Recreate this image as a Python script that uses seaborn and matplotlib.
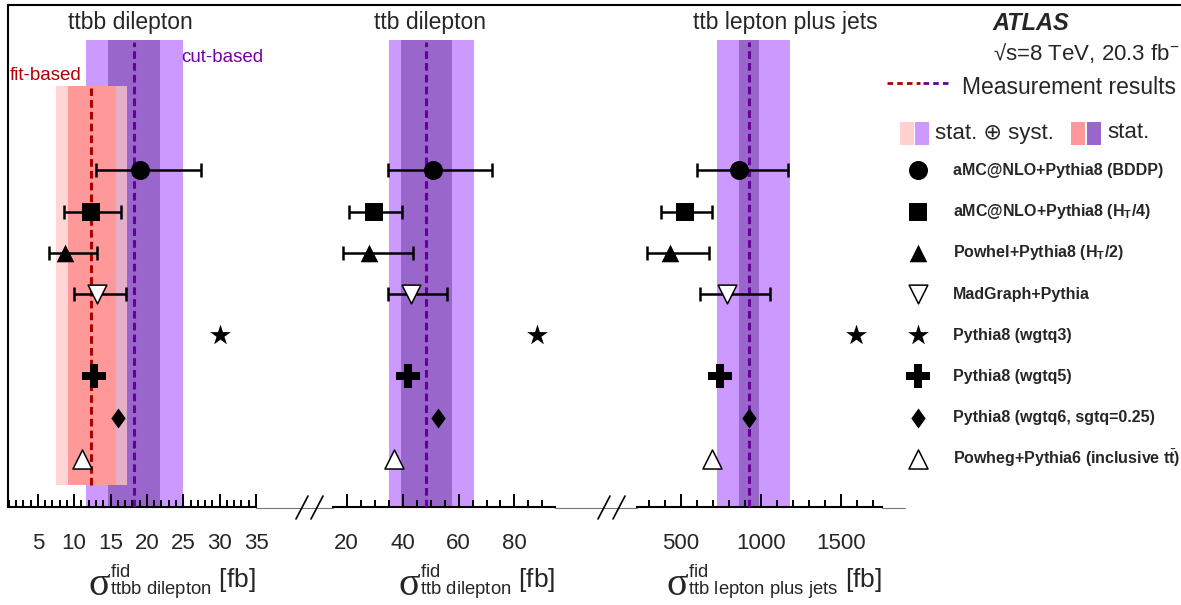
import numpy as np
import pandas as pd
import matplotlib
matplotlib.use("Agg")
import matplotlib.pyplot as plt
import seaborn as sns
from matplotlib.lines import Line2D
from matplotlib.patches import Rectangle

# ---------------- data ----------------
models = [
    "aMC@NLO+Pythia8 (BDDP)",
    r"aMC@NLO+Pythia8 (H$_{\mathbf{T}}$/4)",
    r"Powhel+Pythia8 (H$_{\mathbf{T}}$/2)",
    "MadGraph+Pythia",
    "Pythia8 (wgtq3)",
    "Pythia8 (wgtq5)",
    "Pythia8 (wgtq6, sgtq=0.25)",
    r"Powheg+Pythia6 (inclusive t$\bar{\mathbf{t}}$)",
]
panel_titles = ["ttbb dilepton", "ttb dilepton", "ttb lepton plus jets"]
xlabels = [
    r"${}^{\mathrm{fid}}_{\mathrm{ttbb\ dilepton}}$ [fb]",
    r"${}^{\mathrm{fid}}_{\mathrm{ttb\ dilepton}}$ [fb]",
    r"${}^{\mathrm{fid}}_{\mathrm{ttb\ lepton\ plus\ jets}}$ [fb]",
]

# ttbb dilepton
ttbb_pred = [19.0, 12.3, 8.8, 13.2, 30.0, 12.7, 16.0, 11.1]
ttbb_err_low = [13.0, 8.6, 6.6, 10.0]
ttbb_err_high = [27.5, 16.5, 13.2, 17.1]
ttbb_cut_central = 18.2
ttbb_cut_stat = [14.7, 21.8]
ttbb_cut_total = [11.6, 24.9]
ttbb_fit_central = 12.3
ttbb_fit_stat = [9.1, 15.7]
ttbb_fit_total = [7.5, 17.2]
ttbb_ticks = [5, 10, 15, 20, 25, 30, 35]

# ttb dilepton
ttb_dil_pred = [50.8, 29.9, 28.0, 42.9, 88.0, 41.8, 52.8, 36.8]
ttb_dil_err_low = [34.9, 20.8, 18.8, 34.9]
ttb_dil_err_high = [72.0, 39.8, 43.8, 55.9]
ttb_dil_central = 48.3
ttb_dil_stat = [39.4, 57.6]
ttb_dil_total = [35.1, 65.7]
ttb_dil_ticks = [20, 40, 60, 80]

# ttb lepton plus jets
ttb_lj_pred = [865, 527, 433, 790, 1595, 745, 925, 693]
ttb_lj_err_low = [603, 377, 288, 620]
ttb_lj_err_high = [1170, 693, 678, 1056]
ttb_lj_central = 925
ttb_lj_stat = [861, 989]
ttb_lj_total = [724, 1182]
ttb_lj_ticks = [500, 1000, 1500]

# ---------------- style ----------------
sns.set_theme(style="white")
plt.rcParams["font.family"] = ["Liberation Sans", "DejaVu Sans"]
plt.rcParams["mathtext.fontset"] = "custom"
plt.rcParams["mathtext.rm"] = "Liberation Sans"
plt.rcParams["mathtext.bf"] = "Liberation Sans:bold"
plt.rcParams["mathtext.it"] = "Liberation Sans:italic"
plt.rcParams["mathtext.sf"] = "Liberation Serif"
plt.rcParams["lines.scale_dashes"] = False

LIGHT_PURPLE = "#cc99ff"
DARK_PURPLE = "#9966cc"
LIGHT_PINK = "#ffc8c8"
RED_STAT = "#ff9999"
PURPLE_LINE = "#660099"
RED_LINE = "#aa0000"

diamond = [(0, 1), (0.72, 0), (0, -1), (-0.72, 0), (0, 1)]
marker_styles = [
    dict(marker="o", s=188, color="black", lw=0),
    dict(marker="s", s=160, color="black", lw=0),
    dict(marker="^", s=160, color="black", lw=0),
    dict(marker="v", s=182, color="white", lw=1.1),
    dict(marker="*", s=246, color="black", lw=0),
    dict(marker="P", s=289, color="black", lw=0),
    dict(marker=diamond, s=207, color="black", lw=0),
    dict(marker="^", s=188, color="white", lw=1.1),
]

W, H = 1181, 605
fig = plt.figure(figsize=(W / 100, H / 100), dpi=100)

Y_TOP, Y_BOT = 5, 507
ROW_LIM = (8.168, -4.017)


def px_axes(x0, x1):
    return fig.add_axes([x0 / W, (H - Y_BOT) / H, (x1 - x0) / W, (Y_BOT - Y_TOP) / H])


def frac(ypx):
    return (Y_BOT - ypx) / (Y_BOT - Y_TOP)


panels = [
    dict(px=(8, 256), xlim=(0.9, 35.0), pred=ttbb_pred, lo=ttbb_err_low, hi=ttbb_err_high,
         central=ttbb_cut_central, stat=ttbb_cut_stat, total=ttbb_cut_total,
         ticks=ttbb_ticks, minor=np.arange(1, 36, 1), title_x=0.492),
    dict(px=(333.3, 555), xlim=(15.2, 94.5), pred=ttb_dil_pred, lo=ttb_dil_err_low, hi=ttb_dil_err_high,
         central=ttb_dil_central, stat=ttb_dil_stat, total=ttb_dil_total,
         ticks=ttb_dil_ticks, minor=np.arange(20, 95, 5), title_x=0.436),
    dict(px=(636.7, 881.7), xlim=(226, 1752), pred=ttb_lj_pred, lo=ttb_lj_err_low, hi=ttb_lj_err_high,
         central=ttb_lj_central, stat=ttb_lj_stat, total=ttb_lj_total,
         ticks=ttb_lj_ticks, minor=np.arange(300, 1800, 100), title_x=0.605),
]

rows = np.arange(len(models))
axes = []
for k, p in enumerate(panels):
    ax = px_axes(*p["px"])
    axes.append(ax)
    ax.set_xlim(*p["xlim"])
    ax.set_ylim(*ROW_LIM)
    ax.set_axisbelow(False)

    # measurement bands (cut-based)
    ax.axvspan(*p["total"], ymin=0, ymax=frac(40), color=LIGHT_PURPLE, lw=0, zorder=1)
    ax.axvspan(*p["stat"], ymin=0, ymax=frac(40), color=DARK_PURPLE, lw=0, zorder=1.1)
    ax.axvline(p["central"], ymin=0, ymax=frac(42), color=PURPLE_LINE, lw=2.2,
               linestyle=(0, (5.5, 3.0)), zorder=3)

    if k == 0:
        ax.axvspan(*ttbb_fit_total, ymin=frac(485), ymax=frac(86), color=LIGHT_PINK,
                   alpha=0.75, lw=0, zorder=2)
        ax.axvspan(*ttbb_fit_stat, ymin=frac(485), ymax=frac(86), color=RED_STAT, lw=0, zorder=2.1)
        ax.axvline(ttbb_fit_central, ymin=frac(485), ymax=frac(88), color=RED_LINE, lw=2.2,
                   linestyle=(0, (5.5, 3.0)), zorder=3)
        ax.text(0.153, frac(76), "fit-based", color=RED_LINE, fontsize=13.5,
                ha="center", va="center", transform=ax.transAxes)
        ax.text(0.70, frac(57), "cut-based", color="#7700aa", fontsize=13.5,
                ha="left", va="center", transform=ax.transAxes)

    # error bars for the first predictions
    n = len(p["lo"])
    pv = np.array(p["pred"][:n], dtype=float)
    xerr = [pv - np.array(p["lo"]), np.array(p["hi"]) - pv]
    ax.errorbar(pv, rows[:n], xerr=xerr, fmt="none", ecolor="black", elinewidth=1.8,
                capsize=4.7, capthick=1.8, zorder=4)

    # prediction markers
    for i, st in enumerate(marker_styles):
        sns.scatterplot(x=[p["pred"][i]], y=[rows[i]], marker=st["marker"], s=st["s"],
                        color=st["color"], edgecolor="black", linewidth=st["lw"],
                        ax=ax, legend=False, zorder=5, clip_on=False)

    ax.text(p["title_x"], frac(22), panel_titles[k], fontsize=16.5, ha="center",
            va="center", transform=ax.transAxes)

    # axes styling
    ax.set_xticks(p["ticks"])
    ax.set_xticks(p["minor"], minor=True)
    ax.set_xticklabels([str(t) for t in p["ticks"]])
    ax.set_yticks([])
    ax.set_ylabel("")
    ax.tick_params(axis="x", which="both", bottom=True, top=False, direction="in",
                   width=1.4, color="black")
    ax.tick_params(axis="x", which="major", length=9.5, pad=19, labelsize=16)
    ax.tick_params(axis="x", which="minor", length=5)
    for side in ["top", "right"]:
        ax.spines[side].set_visible(False)
    ax.spines["left"].set_visible(k == 0)
    ax.spines["left"].set_linewidth(1.5)
    ax.spines["left"].set_color("black")
    ax.spines["bottom"].set_linewidth(1.5)
    ax.spines["bottom"].set_color("black")
    ax.set_xlabel(xlabels[k], fontsize=19, ha="right", va="center")
    ax.xaxis.set_label_coords(1.0, frac(582))
    ax.patch.set_alpha(0)

# ---------------- legend panel ----------------
lg = px_axes(882, 1181)
lg.set_xlim(0, 1)
lg.set_ylim(*ROW_LIM)

lg.text(0.371, frac(23), "ATLAS", fontsize=17, fontweight="bold", fontstyle="italic",
        ha="left", va="center", transform=lg.transAxes)
lg.text(0.371, frac(53), "\u221As=8 TeV, 20.3 fb$^{-1}$", fontsize=16,
        ha="left", va="center", transform=lg.transAxes)
lg.plot([0.017, 0.127], [frac(83)] * 2, color=RED_LINE, lw=2.0, linestyle=(0, (4, 3)),
        transform=lg.transAxes)
lg.plot([0.137, 0.234], [frac(83)] * 2, color=PURPLE_LINE, lw=2.0, linestyle=(0, (4, 3)),
        transform=lg.transAxes)
lg.text(0.268, frac(87), "Measurement results", fontsize=16.5, ha="left", va="center",
        transform=lg.transAxes)

for x0, c in [(0.060, "#ffd0d0"), (0.110, LIGHT_PURPLE), (0.632, RED_STAT), (0.686, DARK_PURPLE)]:
    lg.add_patch(Rectangle((x0, frac(145)), 0.046, frac(122) - frac(145), color=c,
                           transform=lg.transAxes, lw=0))
lg.text(0.177, frac(133), "stat. \u2295 syst.", fontsize=16, ha="left", va="center",
        transform=lg.transAxes)
lg.text(0.753, frac(133), "stat.", fontsize=16, ha="left", va="center",
        transform=lg.transAxes)

for i, st in enumerate(marker_styles):
    sns.scatterplot(x=[0.12], y=[rows[i]], marker=st["marker"], s=st["s"],
                    color=st["color"], edgecolor="black", linewidth=st["lw"],
                    ax=lg, legend=False, zorder=5, clip_on=False)
    lg.text(0.237, rows[i], models[i], fontsize=11.5, fontweight="bold",
            ha="left", va="center")
lg.set_xlabel("")
lg.set_ylabel("")
for s in lg.spines.values():
    s.set_visible(False)
lg.patch.set_visible(False)
lg.set_axis_off()

# ---------------- frame decorations ----------------
fig.add_artist(Line2D([8 / W, 1.0], [(H - 5) / H] * 2, color="black", lw=1.5))
yb = (H - 507.5) / H
for xa, xb in [(256, 333.3), (555, 636.7), (881.7, 905)]:
    fig.add_artist(Line2D([xa / W, xb / W], [yb, yb], color="#777777", lw=0.8))
for xs in [296, 311, 598, 613]:
    fig.add_artist(Line2D([xs / W, (xs + 12) / W], [(H - 519) / H, (H - 496) / H],
                          color="black", lw=1.2))
# keep the right edge clean
fig.add_artist(Line2D([1180.5 / W] * 2, [(H - 6.5) / H, 0.0], color="white", lw=1.5, zorder=20))

# large sigma placed just left of each axis title
fig.canvas.draw()
renderer = fig.canvas.get_renderer()
for ax in axes:
    bb = ax.xaxis.label.get_window_extent(renderer)
    fig.text((bb.x0 + 1) / W, (H - 584) / H, r"$\mathsf{\sigma}$", fontsize=29,
             ha="right", va="center")

fig.savefig("out.png", dpi=100)
